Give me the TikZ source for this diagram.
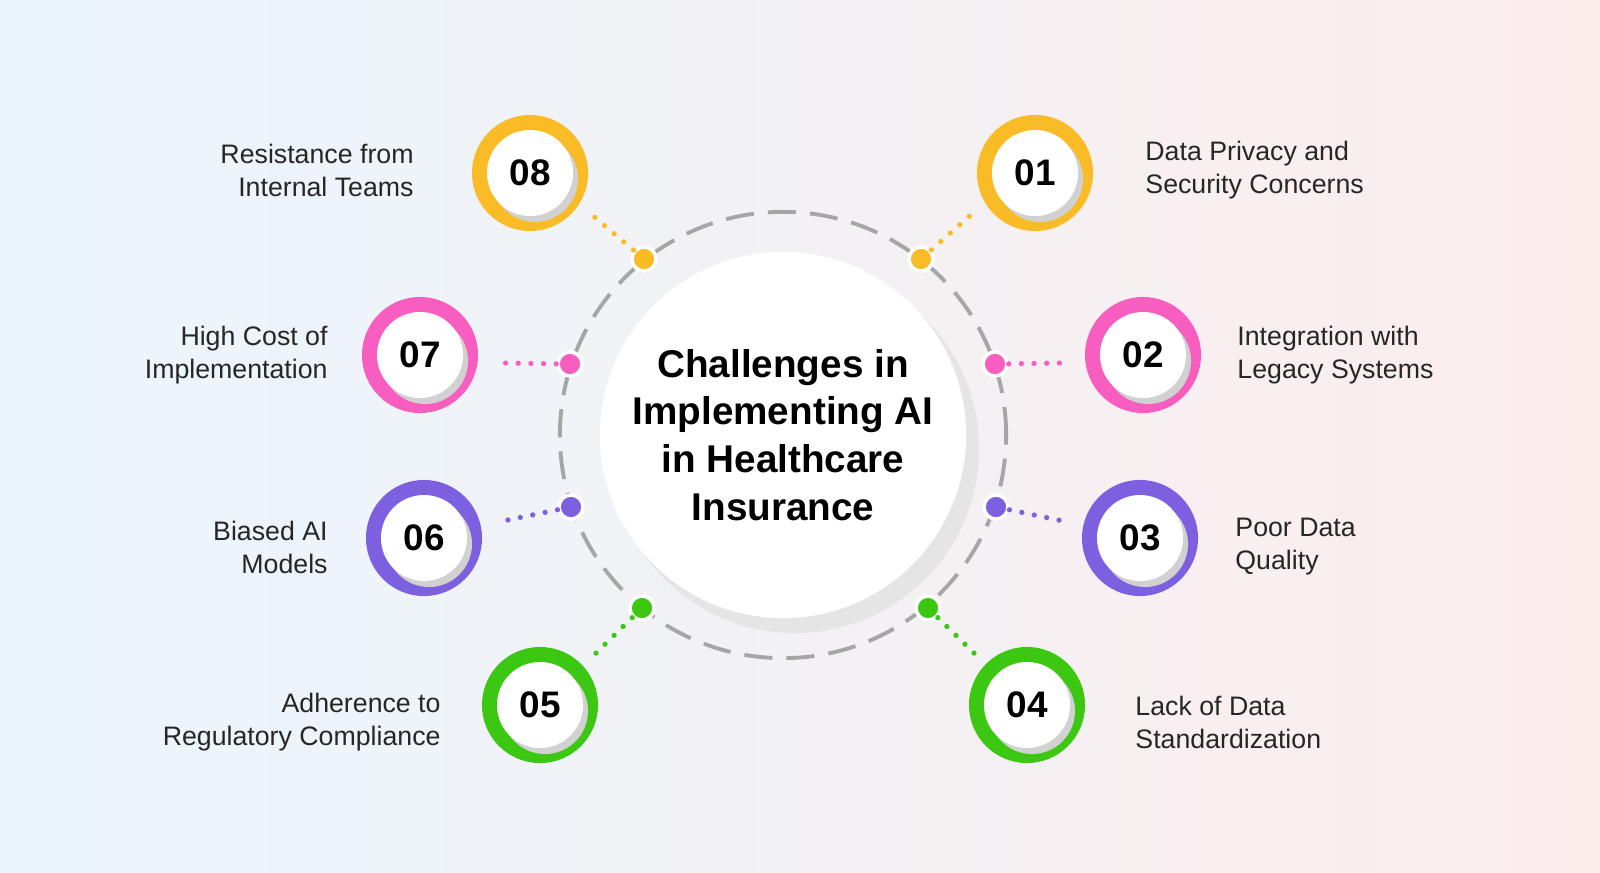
\documentclass[tikz,border=0pt]{standalone}
\usepackage{fontspec}
\setmainfont{Liberation Sans}
\begin{document}
\begin{tikzpicture}[x=0.01cm,y=-0.01cm,
  lbl/.style={font=\fontsize{7.6}{9.4}\selectfont,text=black!85},
  badge/.style={circle,minimum size=1.16cm,inner sep=0},
  num/.style={circle,fill=white,minimum size=0.86cm,inner sep=0,font=\fontsize{10.5}{12}\selectfont\bfseries},
  dotc/.style={circle,minimum size=0.24cm,inner sep=0},
  conn/.style={line width=1.5pt,dash pattern=on 0pt off 3.6pt,line cap=round}]
\definecolor{cy}{HTML}{F9BB26}\definecolor{cp}{HTML}{F85EBF}
\definecolor{cu}{HTML}{7C60E0}\definecolor{cg}{HTML}{3CC812}
\definecolor{bgl}{HTML}{EAF6FC}\definecolor{bgr}{HTML}{FCEDED}
\shade[left color=bgl, right color=bgr] (0,0) rectangle (1600,873);
\useasboundingbox (0,0) rectangle (1600,873);
\draw[gray!70,line width=1.1pt,dash pattern=on 8pt off 4pt] (783,435) circle[radius=2.23cm];
\fill[black!10] (795,449) circle[radius=1.84cm];
\node[circle,fill=white,minimum size=3.66cm,inner sep=0,align=center,font=\fontsize{11}{13.6}\selectfont\bfseries] (c) at (783,435) {Challenges in\\Implementing AI\\in Healthcare\\Insurance};
\foreach \n/\bx/\by/\dx/\dy/\col in {08/530/173/644/259/cy,01/1035/173/921/259/cy,07/420/355/570/364/cp,02/1143/355/995/364/cp,06/424/538/571/507/cu,03/1140/538/996/507/cu,05/540/705/642/608/cg,04/1027/705/928/608/cg}{
  \node[badge,fill=\col] (b\n) at (\bx,\by) {};
  \fill[black!18] (\bx+5,\by+6) circle[radius=0.43cm];
  \node[num] (n\n) at (\bx,\by) {\n};
  \node[dotc,fill=\col,draw=white,line width=1pt] (d\n) at (\dx,\dy) {};
}
\draw[conn,cy] (d08) -- (592,215);
\draw[conn,cy] (d01) -- (973,213);
\draw[conn,cp] (d07) -- (500,363);
\draw[conn,cp] (d02) -- (1063,363);
\draw[conn,cu] (d06) -- (503,521);
\draw[conn,cu] (d03) -- (1063,521);
\draw[conn,cg] (d05) -- (592,657);
\draw[conn,cg] (d04) -- (978,657);
\node[lbl,anchor=east,align=right] (l08) at (426,170) {Resistance from\\Internal Teams};
\node[lbl,anchor=west,align=left] (l01) at (1133,170) {Data Privacy and\\Security Concerns};
\node[lbl,anchor=east,align=right] (l07) at (340,355) {High Cost of\\Implementation\hspace{0.9em}};
\node[lbl,anchor=west,align=left] (l02) at (1225,355) {Integration with\\Legacy Systems};
\node[lbl,anchor=east,align=right] (l06) at (340,547) {Biased AI\\Models};
\node[lbl,anchor=west,align=left] (l03) at (1223,547) {Poor Data\\Quality};
\node[lbl,anchor=east,align=right] (l05) at (453,722) {Adherence to\\Regulatory Compliance};
\node[lbl,anchor=west,align=left] (l04) at (1123,722) {Lack of Data\\Standardization};
\end{tikzpicture}
\end{document}
